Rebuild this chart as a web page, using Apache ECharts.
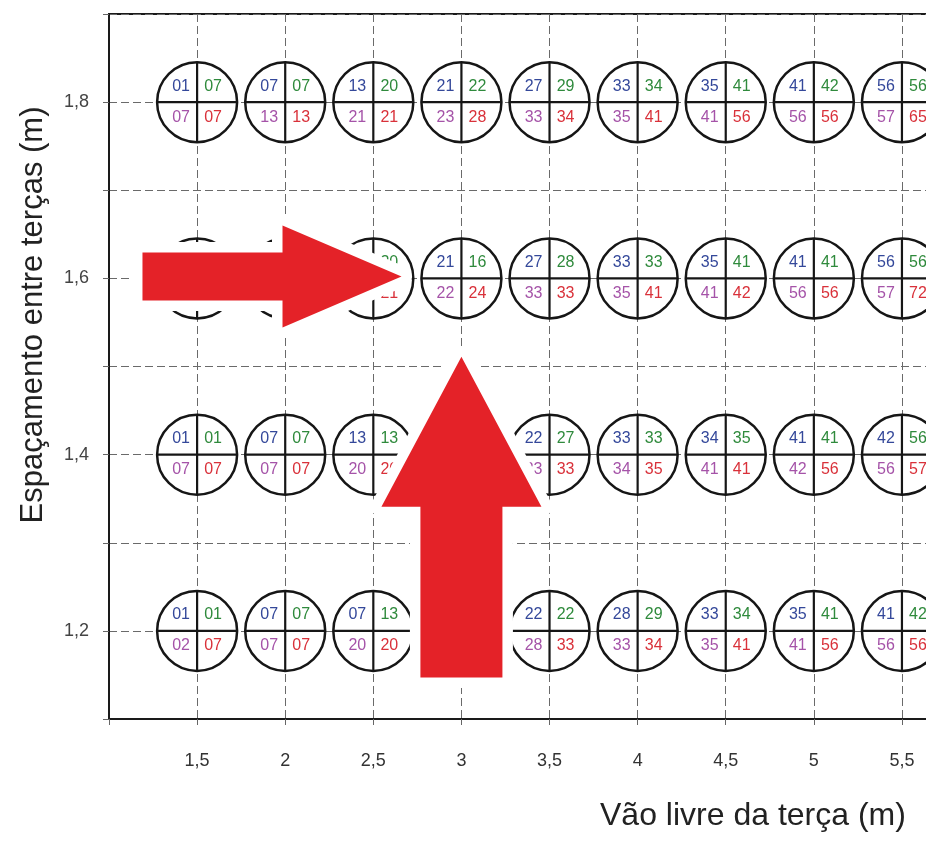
<!DOCTYPE html>
<html>
<head>
<meta charset="utf-8">
<script src="https://cdn.jsdelivr.net/npm/echarts@6/dist/echarts.min.js"></script>
<style>
html,body{margin:0;padding:0;background:#fff;}
#chart{width:926px;height:845px;}
</style>
</head>
<body>
<div id="chart"></div>
<script>
// ---- data ----
const xCats = [1.5, 2, 2.5, 3, 3.5, 4, 4.5, 5, 5.5];
const yRows = [1.2, 1.4, 1.6, 1.8];

const row12_TL = ['01','07','07','13','22','28','33','35','41'];
const row12_TR = ['01','07','13','20','22','29','34','41','42'];
const row12_BL = ['02','07','20','21','28','33','35','41','56'];
const row12_BR = ['07','07','20','21','33','34','41','56','56'];

const row14_TL = ['01','07','13','20','22','33','34','41','42'];
const row14_TR = ['01','07','13','21','27','33','35','41','56'];
const row14_BL = ['07','07','20','21','33','34','41','42','56'];
const row14_BR = ['07','07','20','22','33','35','41','56','57'];

const row16_TL = ['01','07','13','21','27','33','35','41','56'];
const row16_TR = ['07','07','20','16','28','33','41','41','56'];
const row16_BL = ['07','13','21','22','33','35','41','56','57'];
const row16_BR = ['07','13','21','24','33','41','42','56','72'];

const row18_TL = ['01','07','13','21','27','33','35','41','56'];
const row18_TR = ['07','07','20','22','29','34','41','42','56'];
const row18_BL = ['07','13','21','23','33','35','41','56','57'];
const row18_BR = ['07','13','21','28','34','41','56','56','65'];

const xTicks = [1.5, 2, 2.5, 3, 3.5, 4, 4.5, 5, 5.5];
const yTicks = [1.2, 1.4, 1.6, 1.8];

// arrows: [xStart, yStart, xTip, yTip] in data units
const arrowH = [1.19, 1.602, 2.66, 1.602];
const arrowV = [3.0, 1.147, 3.0, 1.511];

// ---- build ----
const rowSets = [
  [row12_TL,row12_TR,row12_BL,row12_BR],
  [row14_TL,row14_TR,row14_BL,row14_BR],
  [row16_TL,row16_TR,row16_BL,row16_BR],
  [row18_TL,row18_TR,row18_BL,row18_BR]
];
const cells = [];
const cellData = [];
yRows.forEach((y, ri) => {
  xCats.forEach((x, ci) => {
    const s = rowSets[ri];
    cells.push([s[0][ci], s[1][ci], s[2][ci], s[3][ci]]);
    cellData.push([x, y]);
  });
});

const R = 40;
const quadColors = ['#34489a', '#2f8a3c', '#a553a8', '#d9313a'];
const FONT = '"Liberation Sans", Arial, sans-serif';
const arrowSizes = [
  {shaft: 24, head: 51, len: 119},
  {shaft: 41, head: 80, len: 150}
];

function fmt(v){ return String(+v.toFixed(1)).replace('.', ','); }

const chart = echarts.init(document.getElementById('chart'), null, {renderer: 'canvas'});
chart.setOption({
  animation: false,
  backgroundColor: '#fff',
  grid: {left: 109, top: 14, bottom: 126, right: -20, outerBoundsMode: 'none', containLabel: false,
    show: true, borderColor: '#1a1a1a', borderWidth: 2, backgroundColor: 'transparent'},
  xAxis: {
    type: 'value', min: 1, max: 5.75, interval: 0.5,
    axisLine: {show: true, onZero: false, lineStyle: {color: '#1a1a1a', width: 2}},
    axisTick: {show: true, length: 6, lineStyle: {color: '#666', type: [6,4]}},
    axisLabel: {margin: 33, color: '#333', fontSize: 18, fontFamily: FONT,
      formatter: v => (xTicks.some(t => Math.abs(t - v) < 1e-6) ? fmt(v) : '')},
    splitLine: {show: true, lineStyle: {color: '#6a6a6a', type: [8,4], width: 1}}
  },
  yAxis: {
    type: 'value', min: 1.1, max: 1.9, interval: 0.1,
    axisLine: {show: true, onZero: false, lineStyle: {color: '#1a1a1a', width: 2}},
    axisTick: {show: true, length: 6, lineStyle: {color: '#666', type: [6,4]}},
    axisLabel: {margin: 20, color: '#444', fontSize: 18, fontFamily: FONT,
      formatter: v => (yTicks.some(t => Math.abs(t - v) < 1e-6) ? fmt(v) : '')},
    splitLine: {show: true, lineStyle: {color: '#6a6a6a', type: [8,4], width: 1}}
  },
  graphic: [
    {type: 'text', left: 600, top: 800, style: {text: 'Vão livre da terça (m)', font: '32px ' + FONT, fill: '#222'}},
    {type: 'text', x: 33, y: 315, rotation: Math.PI/2, style: {text: 'Espaçamento entre terças (m)', font: '31px ' + FONT, fill: '#222', align: 'center', verticalAlign: 'middle'}}
  ],
  series: [
    {
      type: 'custom', z: 5, clip: false,
      encode: {x: 0, y: 1},
      data: cellData,
      renderItem: function(params, api){
        const c = api.coord([api.value(0), api.value(1)]);
        const t = cells[params.dataIndex];
        const stroke = '#161616';
        const offs = [[-16,-16],[16,-16],[-16,15],[16,15]];
        const kids = [
          {type: 'circle', shape: {cx: c[0], cy: c[1], r: R}, style: {fill: '#fff', stroke: stroke, lineWidth: 2.5}},
          {type: 'line', shape: {x1: c[0]-R, y1: c[1], x2: c[0]+R, y2: c[1]}, style: {stroke: stroke, lineWidth: 2.2}},
          {type: 'line', shape: {x1: c[0], y1: c[1]-R, x2: c[0], y2: c[1]+R}, style: {stroke: stroke, lineWidth: 2.2}}
        ];
        for (let k = 0; k < 4; k++) {
          kids.push({type: 'text', x: c[0]+offs[k][0], y: c[1]+offs[k][1],
            style: {text: t[k], fill: quadColors[k], font: '16px ' + FONT, align: 'center', verticalAlign: 'middle'}});
        }
        return {type: 'group', children: kids};
      }
    },
    {
      type: 'custom', z: 10, clip: false,
      encode: {x: [0,2], y: [1,3]},
      data: [arrowH, arrowV],
      renderItem: function(params, api){
        const p1 = api.coord([api.value(0), api.value(1)]);
        const p2 = api.coord([api.value(2), api.value(3)]);
        const sz = arrowSizes[params.dataIndex];
        const dx = p2[0]-p1[0], dy = p2[1]-p1[1];
        const L = Math.sqrt(dx*dx+dy*dy);
        const ux = dx/L, uy = dy/L, nx = -uy, ny = ux;
        const bx = p2[0]-ux*sz.len, by = p2[1]-uy*sz.len;
        const pts = [
          [p1[0]+nx*sz.shaft, p1[1]+ny*sz.shaft],
          [bx+nx*sz.shaft, by+ny*sz.shaft],
          [bx+nx*sz.head, by+ny*sz.head],
          [p2[0], p2[1]],
          [bx-nx*sz.head, by-ny*sz.head],
          [bx-nx*sz.shaft, by-ny*sz.shaft],
          [p1[0]-nx*sz.shaft, p1[1]-ny*sz.shaft]
        ];
        return {type: 'group', children: [
          {type: 'polygon', shape: {points: pts}, style: {fill: '#fff', stroke: '#fff', lineWidth: 21, lineJoin: 'round'}},
          {type: 'polygon', shape: {points: pts}, style: {fill: '#e42228'}}
        ]};
      }
    }
  ]
});
</script>
</body>
</html>
